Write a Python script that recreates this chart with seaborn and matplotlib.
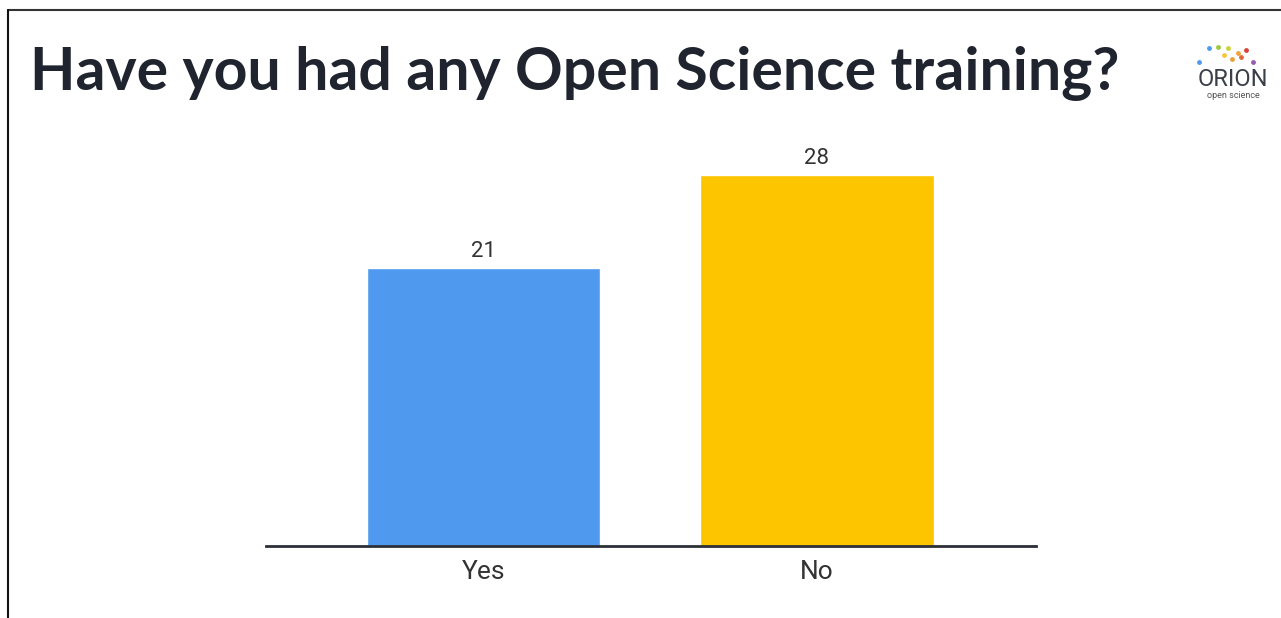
import matplotlib
matplotlib.use("Agg")
import matplotlib.pyplot as plt
import seaborn as sns
import pandas as pd

categories = ["Yes", "No"]
counts = [21, 28]
colors = ["#4f9aee", "#fdc500"]
title = "Have you had any Open Science training?"

sns.set_theme(style="white")
plt.rcParams['font.family'] = ['Roboto', 'DejaVu Sans']

fig = plt.figure(figsize=(12.81, 6.18), dpi=100)
ax = fig.add_axes([266/1281, 72/618, 770/1281, 397.5/618])

df = pd.DataFrame({"cat": categories, "n": counts})
sns.barplot(data=df, x="cat", y="n", hue="cat", palette=colors, width=0.7,
            legend=False, ax=ax, saturation=1)
ax.set_ylim(0, 30)
ax.set_xlim(-0.652, 1.657)
for c in ax.containers:
    ax.bar_label(c, padding=4, fontsize=16, color="#333333")
sns.despine(ax=ax, left=True, top=True, right=True)
ax.spines['bottom'].set_color("#2b2f36")
ax.spines['bottom'].set_linewidth(2)
ax.set_yticks([])
ax.set_xlabel("")
ax.set_ylabel("")
ax.tick_params(axis='x', length=0, labelsize=19, colors="#333333", pad=10)

fig.text(30/1281, 1 - 90/618, title, fontsize=42.5, fontweight='bold',
         color="#1f242e", family=['Lato', 'DejaVu Sans'], va='baseline')

# frame lines
fig.add_artist(plt.Line2D([8/1281, 1], [1 - 10/618, 1 - 10/618], color="#333333", lw=1.5))
fig.add_artist(plt.Line2D([8/1281, 8/1281], [0, 1 - 10/618], color="#111111", lw=1.5))

# logo
lx = [1209, 1218, 1228, 1238, 1246, 1224, 1232, 1241, 1199, 1253]
ly = [48, 47, 48, 53, 50, 55, 59, 57, 62, 62]
lc = ["#4f9aee", "#9acb3c", "#c8d43a", "#f2a23a", "#d9453a", "#f5c53a", "#e8a23a", "#e0693a", "#4f9aee", "#9b59b6"]
for x, y, c in zip(lx, ly, lc):
    fig.add_artist(plt.Line2D([x/1281], [1 - y/618], marker='o', markersize=3.5,
                              color=c, markeredgewidth=0))
fig.text(1233/1281, 1 - 80/618, "ORION", fontsize=17, color="#3a3f48", ha='center', va='center')
fig.text(1233/1281, 1 - 96/618, "open science", fontsize=6.5, color="#555555", ha='center', va='center')

fig.savefig("out.png", dpi=100, facecolor="white")
